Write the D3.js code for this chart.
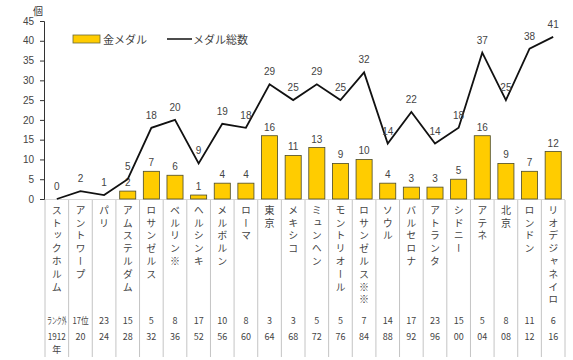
<!DOCTYPE html>
<html><head><meta charset="utf-8">
<script src="https://cdn.jsdelivr.net/npm/d3@7"></script>
<style>
html,body{margin:0;padding:0;background:#fff;}
svg{display:block;font-family:"Noto Sans CJK JP","Noto Sans",sans-serif;}
</style></head>
<body><svg id="c" width="573" height="360"></svg>
<script>
const cities = ["ストックホルム","アントワープ","パリ","アムステルダム","ロサンゼルス","ベルリン※","ヘルシンキ","メルボルン","ローマ","東京","メキシコ","ミュンヘン","モントリオール","ロサンゼルス※※","ソウル","バルセロナ","アトランタ","シドニー","アテネ","北京","ロンドン","リオデジャネイロ"];
const ranks = ["ランク外","17位","23","15","5","8","17","10","8","3","3","5","5","7","14","17","23","15","5","8","11","6"];
const years = ["1912","20","24","28","32","36","52","56","60","64","68","72","76","84","88","92","96","00","04","08","12","16"];
const gold = [0,0,0,2,7,6,1,4,4,16,11,13,9,10,4,3,3,5,16,9,7,12];
const total = [0,2,1,5,18,20,9,19,18,29,25,29,25,32,14,22,14,18,37,25,38,41];
const yTicks = [0,5,10,15,20,25,30,35,40,45];

const svg = d3.select("#c");
const x = d3.scaleBand().domain(d3.range(cities.length)).range([45,565]).paddingInner(0.32).paddingOuter(0.16);
const xb = d3.scaleBand().domain(d3.range(cities.length)).range([45,565]);
const y = d3.scaleLinear().domain([0,45]).range([199,21]);
const cx = i => xb(i) + xb.bandwidth()/2;

// table separators
svg.append("g").selectAll("line").data(d3.range(cities.length+1)).join("line")
  .attr("x1", i => 45 + i*xb.bandwidth()).attr("x2", i => 45 + i*xb.bandwidth())
  .attr("y1", 200).attr("y2", 357).attr("stroke", "#c4c4c4").attr("stroke-width", 1);

// baseline
svg.append("line").attr("x1",44).attr("x2",565).attr("y1",y(0)+0.5).attr("y2",y(0)+0.5).attr("stroke","#d8d8d8");

// y axis
const ya = svg.append("g").attr("transform","translate(44,0)")
  .call(d3.axisLeft(y).tickValues(yTicks).tickSize(4).tickPadding(6));
ya.select(".domain").attr("stroke","#333");
ya.selectAll(".tick line").attr("stroke","#333");
ya.selectAll("text").attr("font-size",10).attr("fill","#444").attr("font-family","'Liberation Sans',sans-serif");
svg.append("text").attr("x",38).attr("y",15).attr("font-size",10).attr("fill","#333").attr("text-anchor","middle").text("個");

// bars
svg.append("g").selectAll("rect").data(gold.map((v,i)=>({v,i})).filter(d=>d.v>0)).join("rect")
  .attr("x", d => x(d.i)).attr("width", x.bandwidth())
  .attr("y", d => y(d.v)).attr("height", d => y(0)-y(d.v))
  .attr("fill","#FFCC00").attr("stroke","#4a4a2a").attr("stroke-width",0.8);
svg.append("g").selectAll("text").data(gold.map((v,i)=>({v,i})).filter(d=>d.v>0)).join("text")
  .attr("x", d => cx(d.i)).attr("y", d => y(d.v)-5)
  .attr("text-anchor","middle").attr("font-size",10).attr("fill","#444")
  .attr("font-family","'Liberation Sans',sans-serif").text(d=>d.v);

// line
const line = d3.line().x((d,i)=>cx(i)).y(d=>y(d));
svg.append("path").datum(total).attr("d",line).attr("fill","none").attr("stroke","#111").attr("stroke-width",1.8).attr("stroke-linejoin","miter");
svg.append("g").selectAll("text").data(total).join("text")
  .attr("x",(d,i)=>cx(i)).attr("y",d=>y(d)-9)
  .attr("text-anchor","middle").attr("font-size",10).attr("fill","#444")
  .attr("font-family","'Liberation Sans',sans-serif").text(d=>d);

// legend
svg.append("rect").attr("x",73).attr("y",35).attr("width",27).attr("height",8).attr("fill","#FFCC00").attr("stroke","#6a6a3a").attr("stroke-width",0.8);
svg.append("text").attr("x",103).attr("y",43.5).attr("font-size",11).attr("fill","#444").text("金メダル");
svg.append("line").attr("x1",167).attr("x2",192).attr("y1",39).attr("y2",39).attr("stroke","#111").attr("stroke-width",1.5);
svg.append("text").attr("x",193).attr("y",43.5).attr("font-size",11).attr("fill","#444").text("メダル総数");

// city names vertical
svg.append("g").selectAll("text").data(cities).join("text")
  .attr("x",(d,i)=>cx(i)).attr("y",205)
  .style("writing-mode","vertical-rl")
  .attr("font-size",10).attr("letter-spacing",2.8).attr("fill","#444")
  .text(d=>d);

// ranks (narrow labels horizontally compressed with a scale transform)
const sx = d => d.length > 3 ? 0.55 : (d.length > 2 ? 0.85 : 1);
svg.append("g").selectAll("text").data(ranks).join("text")
  .attr("transform",(d,i)=>`translate(${cx(i)},324) scale(${sx(d)},1)`)
  .attr("text-anchor","middle").attr("font-size",9).attr("fill","#444")
  .text(d=>d);
// years
svg.append("g").selectAll("text").data(years).join("text")
  .attr("transform",(d,i)=>`translate(${cx(i)},340) scale(${d.length>2?0.9:1},1)`)
  .attr("text-anchor","middle").attr("font-size",9).attr("fill","#444")
  .text(d=>d);
svg.append("text").attr("x",cx(0)).attr("y",353).attr("text-anchor","middle").attr("font-size",9).attr("fill","#444").text("年");
</script></body></html>
